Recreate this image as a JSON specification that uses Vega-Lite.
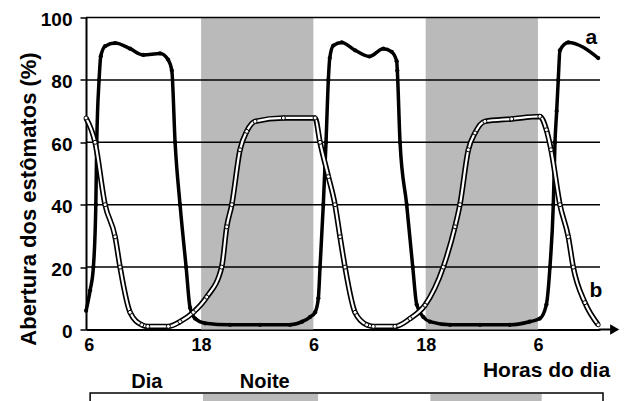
{
  "$schema": "https://vega.github.io/schema/vega-lite/v6.json",
  "autosize": "none",
  "width": 514,
  "height": 312,
  "padding": {"left": 86, "top": 17.5, "right": 26, "bottom": 71.5},
  "background": "white",
  "config": {"view": {"stroke": null}, "font": "Liberation Sans"},
  "datasets": {
    "curves": [
      {"h": -0.29, "v": 6, "s": "a"}, {"h": 0.14, "v": 12.5, "s": "a"}, {"h": 0.49, "v": 20, "s": "a"}, {"h": 0.75, "v": 40, "s": "a"}, {"h": 0.85, "v": 60, "s": "a"}, {"h": 1.1, "v": 80, "s": "a"}, {"h": 1.28, "v": 87.6, "s": "a"}, {"h": 1.74, "v": 90.8, "s": "a"}, {"h": 2.81, "v": 91.8, "s": "a"}, {"h": 4.41, "v": 90, "s": "a"}, {"h": 5.83, "v": 88, "s": "a"}, {"h": 7.62, "v": 88.5, "s": "a"}, {"h": 8.47, "v": 86.5, "s": "a"}, {"h": 8.87, "v": 83, "s": "a"}, {"h": 9.22, "v": 60, "s": "a"}, {"h": 9.75, "v": 40, "s": "a"}, {"h": 10.4, "v": 20, "s": "a"}, {"h": 10.82, "v": 7, "s": "a"}, {"h": 11.36, "v": 3.5, "s": "a"}, {"h": 12.43, "v": 2, "s": "a"}, {"h": 15.1, "v": 1.5, "s": "a"}, {"h": 18.3, "v": 1.5, "s": "a"}, {"h": 21.5, "v": 1.5, "s": "a"}, {"h": 22.8, "v": 2.5, "s": "a"}, {"h": 23.64, "v": 4, "s": "a"}, {"h": 24.18, "v": 5.5, "s": "a"}, {"h": 24.53, "v": 10, "s": "a"}, {"h": 24.71, "v": 20, "s": "a"}, {"h": 25.06, "v": 40, "s": "a"}, {"h": 25.35, "v": 60, "s": "a"}, {"h": 25.6, "v": 80, "s": "a"}, {"h": 25.75, "v": 87, "s": "a"}, {"h": 26.13, "v": 91, "s": "a"}, {"h": 27.03, "v": 92, "s": "a"}, {"h": 28.45, "v": 89.5, "s": "a"}, {"h": 29.98, "v": 87.5, "s": "a"}, {"h": 31.47, "v": 90, "s": "a"}, {"h": 32.37, "v": 89, "s": "a"}, {"h": 32.9, "v": 86, "s": "a"}, {"h": 32.97, "v": 83, "s": "a"}, {"h": 33.26, "v": 60, "s": "a"}, {"h": 33.97, "v": 40, "s": "a"}, {"h": 34.62, "v": 20, "s": "a"}, {"h": 35.04, "v": 8, "s": "a"}, {"h": 35.75, "v": 4, "s": "a"}, {"h": 36.46, "v": 2.5, "s": "a"}, {"h": 38.6, "v": 1.5, "s": "a"}, {"h": 41.8, "v": 1.5, "s": "a"}, {"h": 45.0, "v": 1.5, "s": "a"}, {"h": 47.1, "v": 2.5, "s": "a"}, {"h": 48.2, "v": 3.5, "s": "a"}, {"h": 48.9, "v": 8, "s": "a"}, {"h": 49.28, "v": 20, "s": "a"}, {"h": 49.64, "v": 40, "s": "a"}, {"h": 49.82, "v": 60, "s": "a"}, {"h": 50.0, "v": 70, "s": "a"}, {"h": 50.17, "v": 80, "s": "a"}, {"h": 50.35, "v": 89.5, "s": "a"}, {"h": 51.24, "v": 92, "s": "a"}, {"h": 54.44, "v": 87, "s": "a"},
      {"h": -0.3, "v": 67.8, "s": "b"}, {"h": 0.67, "v": 60, "s": "b"}, {"h": 1.74, "v": 40, "s": "b"}, {"h": 2.81, "v": 29.7, "s": "b"}, {"h": 3.34, "v": 20, "s": "b"}, {"h": 4.41, "v": 5.5, "s": "b"}, {"h": 5.66, "v": 1.5, "s": "b"}, {"h": 6.3, "v": 1, "s": "b"}, {"h": 8.5, "v": 1, "s": "b"}, {"h": 9.75, "v": 2.5, "s": "b"}, {"h": 11.17, "v": 5.5, "s": "b"}, {"h": 12.6, "v": 10.4, "s": "b"}, {"h": 14.2, "v": 20, "s": "b"}, {"h": 14.74, "v": 32.9, "s": "b"}, {"h": 15.28, "v": 40, "s": "b"}, {"h": 16.16, "v": 57.6, "s": "b"}, {"h": 16.88, "v": 63.5, "s": "b"}, {"h": 17.77, "v": 66.7, "s": "b"}, {"h": 20.79, "v": 67.8, "s": "b"}, {"h": 24.18, "v": 67.8, "s": "b"}, {"h": 24.71, "v": 60, "s": "b"}, {"h": 25.6, "v": 49, "s": "b"}, {"h": 26.31, "v": 40, "s": "b"}, {"h": 26.85, "v": 29.7, "s": "b"}, {"h": 27.38, "v": 20, "s": "b"}, {"h": 28.45, "v": 5.5, "s": "b"}, {"h": 29.7, "v": 1.5, "s": "b"}, {"h": 30.4, "v": 1, "s": "b"}, {"h": 32.72, "v": 1, "s": "b"}, {"h": 34.33, "v": 3.5, "s": "b"}, {"h": 35.93, "v": 7.8, "s": "b"}, {"h": 37.88, "v": 20, "s": "b"}, {"h": 39.13, "v": 32.9, "s": "b"}, {"h": 39.66, "v": 40, "s": "b"}, {"h": 40.56, "v": 57.6, "s": "b"}, {"h": 41.27, "v": 63, "s": "b"}, {"h": 42.33, "v": 66.7, "s": "b"}, {"h": 45.19, "v": 67.5, "s": "b"}, {"h": 48.2, "v": 68.3, "s": "b"}, {"h": 48.9, "v": 64, "s": "b"}, {"h": 49.4, "v": 57.6, "s": "b"}, {"h": 50.35, "v": 40, "s": "b"}, {"h": 51.24, "v": 29.7, "s": "b"}, {"h": 51.77, "v": 20, "s": "b"}, {"h": 53.02, "v": 8.6, "s": "b"}, {"h": 54.44, "v": 1.5, "s": "b"}
    ],
    "night": [{"start": 12, "end": 24}, {"start": 36, "end": 48}],
    "legendbar": [{"start": 12.2, "end": 24.5}, {"start": 36.5, "end": 48.4}],
    "grid": [{"g": 20}, {"g": 40}, {"g": 60}, {"g": 80}, {"g": 100}]
  },
  "layer": [
    {
      "data": {"name": "night"},
      "mark": {"type": "rect", "fill": "#bababa"},
      "encoding": {
        "x": {"field": "start", "type": "quantitative", "scale": {"domain": [-0.3, 54.63], "nice": false, "zero": false},
          "axis": {"title": "Horas do dia", "values": [0, 12, 24, 36, 48], "labelExpr": "datum.value % 24 == 0 ? '6' : '18'", "ticks": false, "grid": false, "domainColor": "black", "domainWidth": 2, "labelFont": "Liberation Sans", "labelFontSize": 18, "labelFontWeight": "bold", "labelColor": "black", "labelPadding": 7, "labelFlush": false, "labelOverlap": false, "titleFont": "Liberation Sans", "titleFontSize": 21, "titleFontWeight": "bold", "titleColor": "black", "titleX": 460, "titleY": 47, "titleAlign": "center", "titleBaseline": "alphabetic"}},
        "x2": {"field": "end"},
        "y": {"datum": 0, "type": "quantitative", "scale": {"domain": [0, 100], "nice": false},
          "axis": {"title": "Abertura dos estômatos (%)", "values": [0, 20, 40, 60, 80, 100], "grid": false, "tickSize": 6, "tickWidth": 1.5, "tickColor": "black", "domainColor": "black", "domainWidth": 2, "labelFont": "Liberation Sans", "labelFontSize": 19, "labelFontWeight": "bold", "labelColor": "black", "labelPadding": 8, "labelOffset": 2, "labelFlush": false, "labelOverlap": false, "titleFont": "Liberation Sans", "titleFontSize": 22, "titleFontWeight": "bold", "titleColor": "black", "titleX": -51, "titleY": 181, "titleAlign": "center", "titleBaseline": "alphabetic"}},
        "y2": {"datum": 100}
      }
    },
    {
      "data": {"values": [{}]},
      "mark": {"type": "rect", "fill": "white", "stroke": "black", "strokeWidth": 1.5, "clip": false},
      "encoding": {
        "x": {"datum": 0.14, "type": "quantitative"},
        "x2": {"datum": 54.95},
        "y": {"datum": -20.35, "type": "quantitative"},
        "y2": {"datum": -32}
      }
    },
    {
      "data": {"name": "legendbar"},
      "mark": {"type": "rect", "fill": "#bababa", "clip": false},
      "encoding": {
        "x": {"field": "start", "type": "quantitative"},
        "x2": {"field": "end"},
        "y": {"datum": -20.7, "type": "quantitative"},
        "y2": {"datum": -32}
      }
    },
    {
      "data": {"name": "grid"},
      "mark": {"type": "rule", "color": "black", "strokeWidth": 1.5},
      "encoding": {"y": {"field": "g", "type": "quantitative"}}
    },
    {
      "data": {"values": [{}]},
      "mark": {"type": "rule", "color": "black", "strokeWidth": 2, "clip": false},
      "encoding": {
        "x": {"datum": 54.5, "type": "quantitative"},
        "x2": {"datum": 56},
        "y": {"datum": 0, "type": "quantitative"}
      }
    },
    {
      "data": {"values": [{}]},
      "mark": {"type": "point", "shape": "triangle-right", "filled": true, "color": "black", "size": 110, "opacity": 1, "clip": false},
      "encoding": {
        "x": {"datum": 56.2, "type": "quantitative"},
        "y": {"datum": 0, "type": "quantitative"}
      }
    },
    {
      "data": {"name": "curves"},
      "transform": [{"filter": "datum.s == 'a'"}],
      "mark": {"type": "line", "color": "black", "strokeWidth": 3.5, "interpolate": "monotone"},
      "encoding": {
        "x": {"field": "h", "type": "quantitative"},
        "y": {"field": "v", "type": "quantitative"}
      }
    },
    {
      "data": {"name": "curves"},
      "transform": [{"filter": "datum.s == 'a'"}],
      "mark": {"type": "circle", "color": "black", "size": 18, "opacity": 1},
      "encoding": {
        "x": {"field": "h", "type": "quantitative"},
        "y": {"field": "v", "type": "quantitative"}
      }
    },
    {
      "data": {"name": "curves"},
      "transform": [{"filter": "datum.s == 'b'"}],
      "mark": {"type": "line", "color": "black", "strokeWidth": 5.5, "interpolate": "monotone"},
      "encoding": {
        "x": {"field": "h", "type": "quantitative"},
        "y": {"field": "v", "type": "quantitative"}
      }
    },
    {
      "data": {"name": "curves"},
      "transform": [{"filter": "datum.s == 'b'"}],
      "mark": {"type": "line", "color": "white", "strokeWidth": 2.2, "interpolate": "monotone"},
      "encoding": {
        "x": {"field": "h", "type": "quantitative"},
        "y": {"field": "v", "type": "quantitative"}
      }
    },
    {
      "data": {"name": "curves"},
      "transform": [{"filter": "datum.s == 'b'"}],
      "mark": {"type": "point", "shape": "circle", "filled": true, "fill": "white", "stroke": "black", "strokeWidth": 1, "size": 16, "opacity": 1},
      "encoding": {
        "x": {"field": "h", "type": "quantitative"},
        "y": {"field": "v", "type": "quantitative"}
      }
    },
    {
      "data": {"values": [{}]},
      "mark": {"type": "text", "text": "a", "font": "Liberation Sans", "fontSize": 21, "fontWeight": "bold", "color": "black", "align": "center", "baseline": "middle"},
      "encoding": {"x": {"datum": 53.7, "type": "quantitative"}, "y": {"datum": 93.5, "type": "quantitative"}}
    },
    {
      "data": {"values": [{}]},
      "mark": {"type": "text", "text": "b", "font": "Liberation Sans", "fontSize": 21, "fontWeight": "bold", "color": "black", "align": "center", "baseline": "middle"},
      "encoding": {"x": {"datum": 54.2, "type": "quantitative"}, "y": {"datum": 12.5, "type": "quantitative"}}
    },
    {
      "data": {"values": [{}]},
      "mark": {"type": "text", "text": "Dia", "font": "Liberation Sans", "fontSize": 20, "fontWeight": "bold", "color": "black", "align": "center", "baseline": "middle"},
      "encoding": {"x": {"datum": 6.2, "type": "quantitative"}, "y": {"datum": -16.7, "type": "quantitative"}}
    },
    {
      "data": {"values": [{}]},
      "mark": {"type": "text", "text": "Noite", "font": "Liberation Sans", "fontSize": 20, "fontWeight": "bold", "color": "black", "align": "center", "baseline": "middle"},
      "encoding": {"x": {"datum": 18.8, "type": "quantitative"}, "y": {"datum": -16.7, "type": "quantitative"}}
    }
  ]
}
